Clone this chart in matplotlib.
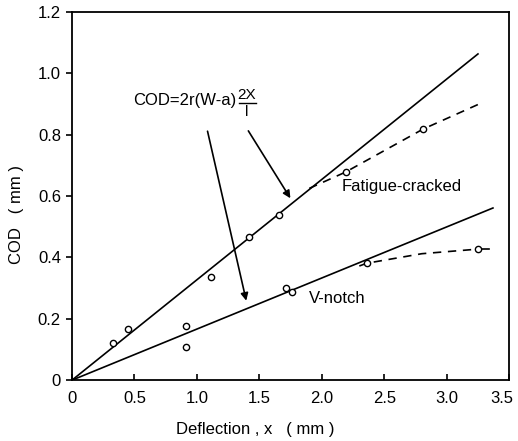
import matplotlib
matplotlib.use('Agg')
import matplotlib.pyplot as plt
import matplotlib.transforms as mtransforms
import numpy as np

# measured crack opening displacement vs deflection
fc_x = [0.33, 0.45, 1.11, 1.42, 1.66, 2.19, 2.81]
fc_y = [0.121, 0.166, 0.336, 0.466, 0.538, 0.678, 0.818]
vn_x = [0.91, 0.91, 1.71, 1.76, 2.36, 3.25]
vn_y = [0.176, 0.108, 0.300, 0.287, 0.381, 0.427]

# theoretical lines COD = 2r(W-a) 2x/l
fc_line_x = [0.0, 3.25]
fc_line_y = [0.0, 1.063]
vn_line_x = [0.0, 3.37]
vn_line_y = [0.0, 0.561]

# dashed deviation curves
fc_dash_x = [1.90, 2.19, 2.81, 3.26]
fc_dash_y = [0.625, 0.678, 0.818, 0.900]
vn_dash_x = [2.30, 2.36, 2.80, 3.25]
vn_dash_y = [0.372, 0.381, 0.412, 0.427]
vn_tail_x = [3.25, 3.34]
vn_tail_y = [0.427, 0.427]

xticks = [0, 0.5, 1.0, 1.5, 2.0, 2.5, 3.0, 3.5]
xticklabels = ['0', '0.5', '1.0', '1.5', '2.0', '2.5', '3.0', '3.5']
yticks = [0, 0.2, 0.4, 0.6, 0.8, 1.0, 1.2]
yticklabels = ['0', '0.2', '0.4', '0.6', '0.8', '1.0', '1.2']

plt.rcParams['font.family'] = 'Liberation Sans'
fig = plt.figure(figsize=(5.18, 4.41), dpi=100)
ax = fig.add_axes([0.139, 0.138, 0.844, 0.835])

lw = 1.2
ax.plot(fc_line_x, fc_line_y, color='black', lw=lw)
ax.plot(vn_line_x, vn_line_y, color='black', lw=lw)
ax.plot(fc_dash_x, fc_dash_y, color='black', lw=lw, ls=(0, (5, 4)))
ax.plot(vn_dash_x, vn_dash_y, color='black', lw=lw, ls=(0, (5, 4)))
ax.plot(vn_tail_x, vn_tail_y, color='black', lw=lw)

ax.plot(fc_x, fc_y, 'o', ms=4.5, mfc='white', mec='black', mew=1.0)
ax.plot(vn_x, vn_y, 'o', ms=4.5, mfc='white', mec='black', mew=1.0)

ax.text(0.49, 0.91, 'COD=2r(W-a)', fontsize=12, va='center', ha='left')
ax.text(1.40, 0.93, '2X', fontsize=11, va='center', ha='center')
ax.plot([1.34, 1.47], [0.902, 0.902], color='black', lw=1.0)
ax.text(1.40, 0.875, 'l', fontsize=11, va='center', ha='center')

arrow = dict(arrowstyle='-|>', color='black', lw=1.2, mutation_scale=11)
ax.annotate('', xy=(1.40, 0.250), xytext=(1.08, 0.82), arrowprops=arrow)
ax.annotate('', xy=(1.76, 0.585), xytext=(1.40, 0.82), arrowprops=arrow)

ax.text(2.16, 0.63, 'Fatigue-cracked', fontsize=12, va='center', ha='left')
ax.text(1.90, 0.265, 'V-notch', fontsize=12, va='center', ha='left')

ax.set_xlim(0, 3.5)
ax.set_ylim(0, 1.2)
ax.set_xticks(xticks)
ax.set_xticklabels(xticklabels, fontsize=12)
ax.set_yticks(yticks)
ax.set_yticklabels(yticklabels, fontsize=12)
ax.tick_params(axis='x', direction='in', length=4, width=1.2, pad=8)
ax.tick_params(axis='y', direction='out', length=4, width=1.2, pad=4)
for s in ax.spines.values():
    s.set_linewidth(1.3)

# nudge the last x label so it stays inside the figure
last = ax.get_xticklabels()[-1]
last.set_transform(last.get_transform() +
                   mtransforms.ScaledTranslation(-5 / 72, 0, fig.dpi_scale_trans))

ax.set_xlabel('Deflection , x   ( mm )', fontsize=12)
ax.xaxis.set_label_coords(0.42, -0.115)
ax.set_ylabel('COD   ( mm )', fontsize=12)
ax.yaxis.set_label_coords(-0.11, 0.45)

plt.savefig('out.png', dpi=100)
